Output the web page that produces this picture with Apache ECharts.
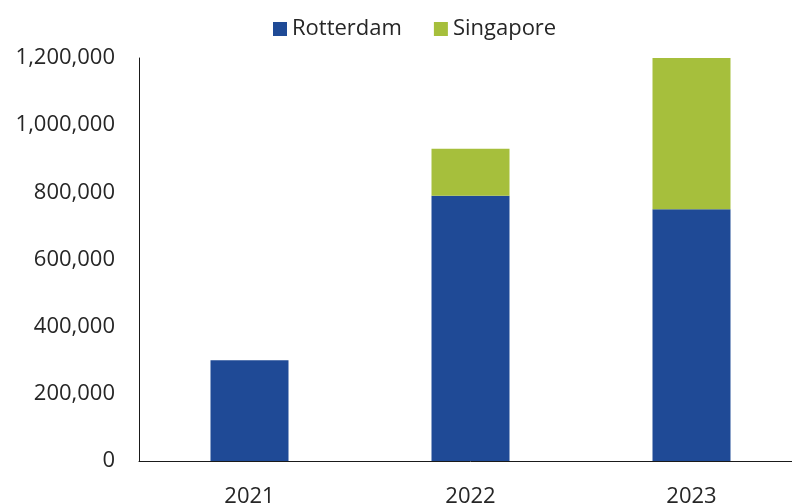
<!DOCTYPE html>
<html>
<head>
<meta charset="utf-8">
<script src="https://cdn.jsdelivr.net/npm/echarts@6/dist/echarts.min.js"></script>
<style>
  html, body { margin: 0; padding: 0; background: #ffffff; overflow: hidden; }
  /* the plot runs a little past the right edge of the window */
  #chart { width: 802px; height: 504px; }
</style>
</head>
<body>
<div id="chart"></div>
<script>
// Yearly volumes by port, stacked per year
const years = ['2021', '2022', '2023'];
const rotterdam = [300000, 790000, 750000];
const singapore = [0, 140000, 450000];
const yTicks = { min: 0, max: 1200000, interval: 200000 };

const FONT = '"Open Sans", "Noto Sans", sans-serif';
const TEXT = '#262626';

const chart = echarts.init(document.getElementById('chart'), null, { renderer: 'canvas' });

chart.setOption({
  animation: false,
  backgroundColor: '#ffffff',
  legend: {
    top: 13,
    left: 268,
    itemWidth: 14,
    itemHeight: 14,
    itemGap: 32,
    icon: 'rect',
    textStyle: { fontFamily: FONT, fontSize: 22, color: TEXT },
    data: ['Rotterdam', 'Singapore']
  },
  grid: {
    left: 139, right: 0, top: 58, bottom: 43,
    containLabel: false,
    outerBoundsMode: 'none'
  },
  xAxis: {
    type: 'category',
    data: years,
    axisLine: { show: true, lineStyle: { color: '#1a1a1a', width: 1 } },
    axisTick: { show: false },
    axisLabel: { margin: 25, fontFamily: FONT, fontSize: 22, color: TEXT }
  },
  yAxis: {
    type: 'value',
    min: yTicks.min,
    max: yTicks.max,
    interval: yTicks.interval,
    splitLine: { show: false },
    axisTick: { show: false },
    axisLine: { show: true, lineStyle: { color: '#1a1a1a', width: 1 } },
    axisLabel: {
      margin: 24,
      fontFamily: FONT,
      fontSize: 22,
      color: TEXT,
      formatter: v => v.toLocaleString('en-US')
    }
  },
  series: [
    {
      name: 'Rotterdam',
      type: 'bar',
      stack: 'total',
      barWidth: 78,
      itemStyle: { color: '#1F4A96' },
      data: rotterdam
    },
    {
      name: 'Singapore',
      type: 'bar',
      stack: 'total',
      barWidth: 78,
      itemStyle: { color: '#A6BF3C' },
      data: singapore
    }
  ]
});
</script>
</body>
</html>
